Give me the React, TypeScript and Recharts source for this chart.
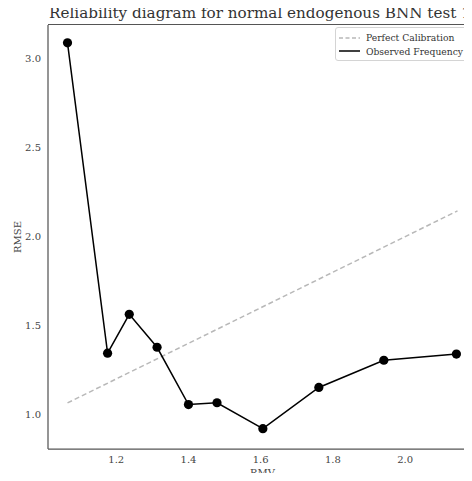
import {
    ComposedChart,
    Line,
    XAxis,
    YAxis,
} from 'recharts';

const rmv = [1.065, 1.176, 1.236, 1.313, 1.4, 1.479, 1.606, 1.761, 1.941, 2.142];
const rmse = [3.09, 1.345, 1.563, 1.378, 1.056, 1.066, 0.92, 1.152, 1.305, 1.34];
const calibEnds = [1.065, 2.145];
const xTicks = [1.2, 1.4, 1.6, 1.8, 2.0];
const yTicks = [1.0, 1.5, 2.0, 2.5, 3.0];

const observed = rmv.map((x, i) => ({ x, y: rmse[i] }));
const perfect = calibEnds.map((v) => ({ x: v, y: v }));

const FONT = '"DejaVu Serif", serif';
const tickStyle = { fill: '#444', fontSize: 10, fontFamily: FONT };

// matplotlib-style legend box, top right inside the axes
function LegendBox() {
    return (
        <div
            style={{
                position: 'absolute',
                left: 335,
                top: 27,
                width: 132,
                boxSizing: 'border-box',
                border: '1px solid #d4d4d4',
                borderRadius: 3,
                background: 'rgba(255,255,255,0.8)',
                padding: '3px 3px 2px',
                fontFamily: FONT,
                fontSize: 9.2,
                color: '#333',
                lineHeight: '13.5px',
                whiteSpace: 'nowrap',
            }}
        >
            <div style={{ display: 'flex', alignItems: 'center' }}>
                <svg width={21} height={8} style={{ marginRight: 6 }}>
                    <line x1={0} y1={4} x2={21} y2={4} stroke="#b8b8b8" strokeWidth={1.5} strokeDasharray="4 2.5" />
                </svg>
                Perfect Calibration
            </div>
            <div style={{ display: 'flex', alignItems: 'center' }}>
                <svg width={21} height={8} style={{ marginRight: 6 }}>
                    <line x1={0} y1={4} x2={21} y2={4} stroke="#000" strokeWidth={1.5} />
                </svg>
                Observed Frequency
            </div>
        </div>
    );
}

export default function App() {
    return (
        <div
            style={{
                position: 'relative',
                width: 472,
                height: 481,
                margin: -8,
                overflow: 'hidden',
                background: '#fff',
            }}
        >
            <div
                style={{
                    position: 'absolute',
                    left: 49,
                    top: 6,
                    fontFamily: FONT,
                    fontSize: 15.2,
                    lineHeight: '15px',
                    color: '#333',
                    whiteSpace: 'nowrap',
                }}
            >
                Reliability diagram for normal endogenous BNN test 1
            </div>
            <ComposedChart
                width={480}
                height={481}
                margin={{ top: 25, right: 3, left: 0, bottom: 0 }}
                style={{ position: 'absolute', left: 0, top: 0 }}
            >
                <XAxis
                    type="number"
                    dataKey="x"
                    domain={[1.011, 2.199]}
                    ticks={xTicks}
                    tickFormatter={(v: number) => v.toFixed(1)}
                    allowDataOverflow
                    height={32}
                    tickLine={false}
                    tickSize={5}
                    tickMargin={2}
                    tick={tickStyle}
                    axisLine={{ stroke: '#555', strokeWidth: 1.25 }}
                    label={{ value: 'RMV', position: 'insideBottom', offset: 5, fill: '#444', fontSize: 10, fontFamily: FONT }}
                />
                <YAxis
                    type="number"
                    dataKey="y"
                    domain={[0.806, 3.19]}
                    ticks={yTicks}
                    tickFormatter={(v: number) => v.toFixed(1)}
                    allowDataOverflow
                    width={48}
                    tickLine={false}
                    tickSize={5}
                    tickMargin={2}
                    tick={tickStyle}
                    axisLine={{ stroke: '#555', strokeWidth: 1.25 }}
                    label={{
                        value: 'RMSE',
                        angle: -90,
                        position: 'insideLeft',
                        offset: 17,
                        fill: '#444',
                        fontSize: 10,
                        fontFamily: FONT,
                        style: { textAnchor: 'middle' },
                    }}
                />
                <Line
                    data={perfect}
                    dataKey="y"
                    name="Perfect Calibration"
                    stroke="#b8b8b8"
                    strokeWidth={1.5}
                    strokeDasharray="5 3"
                    dot={false}
                    activeDot={false}
                    isAnimationActive={false}
                />
                <Line
                    data={observed}
                    dataKey="y"
                    name="Observed Frequency"
                    stroke="#000"
                    strokeWidth={1.5}
                    dot={{ r: 4.6, fill: '#000', stroke: '#000', strokeWidth: 0 }}
                    activeDot={false}
                    isAnimationActive={false}
                />
            </ComposedChart>
            {/* top spine */}
            <div
                style={{
                    position: 'absolute',
                    left: 48,
                    top: 24,
                    width: 440,
                    borderTop: '1.25px solid #555',
                }}
            />
            <LegendBox />
        </div>
    );
}
